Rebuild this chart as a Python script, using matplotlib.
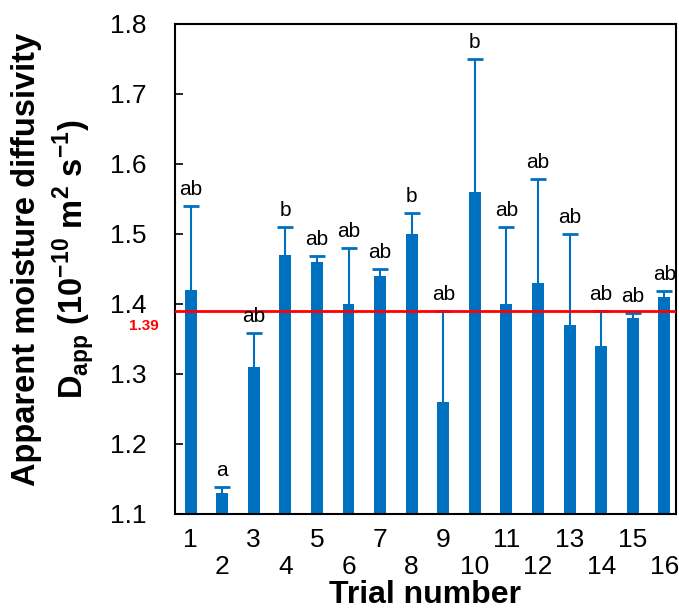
import numpy as np
import matplotlib.pyplot as plt

plt.rcParams['font.family'] = ['Liberation Sans', 'DejaVu Sans']
plt.rcParams['mathtext.fontset'] = 'custom'
plt.rcParams['mathtext.rm'] = 'Liberation Sans'
plt.rcParams['mathtext.bf'] = 'Liberation Sans:bold'

# data
trials = np.arange(1, 17)
dapp = [1.42, 1.13, 1.31, 1.47, 1.46, 1.40, 1.44, 1.50,
        1.26, 1.56, 1.40, 1.43, 1.37, 1.34, 1.38, 1.41]
upper = [1.54, 1.138, 1.358, 1.51, 1.469, 1.48, 1.45, 1.53,
         1.39, 1.75, 1.51, 1.578, 1.50, 1.39, 1.387, 1.419]
letters = ['ab', 'a', 'ab', 'b', 'ab', 'ab', 'ab', 'b',
           'ab', 'b', 'ab', 'ab', 'ab', 'ab', 'ab', 'ab']
mean_val = 1.39

blue = '#0070C0'
err = np.array(upper) - np.array(dapp)

fig = plt.figure(figsize=(6.79, 6.09), dpi=100)
ax = fig.add_axes([0.257, 0.156, 0.739, 0.805])

ax.bar(trials, dapp, width=0.38, color=blue, zorder=2)
eb = ax.errorbar(trials, dapp, yerr=[np.zeros(16), err], fmt='none', ecolor=blue,
                 elinewidth=1.5, capsize=5.5, capthick=2, zorder=2)
# only the upper caps are shown
eb[1][0].set_visible(False)
ax.axhline(mean_val, color='red', lw=2, zorder=3)

for x, u, l in zip(trials, upper, letters):
    ax.annotate(l, (x, u), xytext=(0, 5), textcoords='offset points',
                ha='center', va='bottom', fontsize=15)

ax.text(-0.062, 1.369, '1.39', color='red', fontsize=11, fontweight='bold',
        ha='center', va='center', transform=ax.get_yaxis_transform())

ax.set_xlim(0.49, 16.38)
ax.set_ylim(1.1, 1.8)
ax.set_yticks(np.arange(1.1, 1.81, 0.1))
ax.set_yticklabels(['%.1f' % v for v in np.arange(1.1, 1.81, 0.1)], fontsize=19)
ax.set_xticks(trials)
ax.set_xticklabels([str(t) if t % 2 else '\n' + str(t) for t in trials],
                   fontsize=19, linespacing=1.15)
ax.tick_params(axis='y', direction='in', length=6, width=1.2, pad=20)
ax.tick_params(axis='x', length=0, pad=10)
for s in ax.spines.values():
    s.set_linewidth(1.5)

ax.set_xlabel('Trial number', fontsize=23, fontweight='bold', labelpad=1)
ax.set_ylabel('Apparent moisture diffusivity\n'
              r'D$_{\mathbf{app}}$ (10$^{\mathbf{-10}}$ m$^{\mathbf{2}}$ s$^{\mathbf{-1}}$)',
              fontsize=23.5, fontweight='bold', linespacing=1.25)
ax.yaxis.set_label_coords(-0.157, 0.52)

fig.savefig('out.png', dpi=100)
